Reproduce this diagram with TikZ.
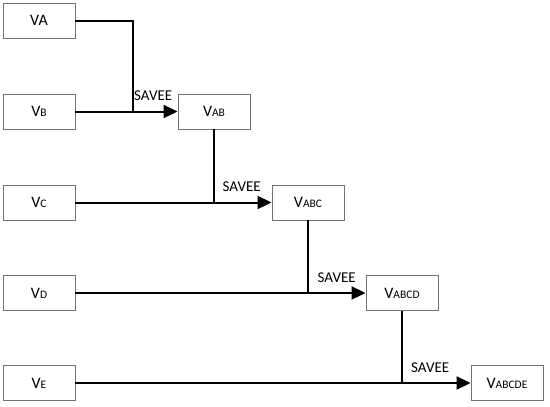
\documentclass[tikz,border=0pt]{standalone}
\usepackage{fontspec}
\setmainfont{Carlito}
\usetikzlibrary{arrows.meta}
\tikzset{
  vbox/.style={draw=black!55, line width=0.9pt, minimum width=72pt, minimum height=35pt, inner sep=0pt, font=\fontsize{16}{18}\selectfont},
  conn/.style={line width=2pt},
  arr/.style={conn, -{Triangle[length=14pt,width=13pt]}},
  lab/.style={font=\fontsize{15}{17}\selectfont, inner sep=0pt, anchor=south west}
}
\newcommand{\sub}[1]{{\fontsize{11.5}{13}\selectfont #1}}
\begin{document}
\begin{tikzpicture}[x=1pt,y=-1pt]
\useasboundingbox (0,0) rectangle (550,407);
\node[vbox] (va) at (39,20.5) {VA};
\node[vbox] (vb) at (39,111.5) {V\sub{B}};
\node[vbox] (vab) at (214,111.5) {V\sub{AB}};
\node[vbox] (vc) at (39,202.5) {V\sub{C}};
\node[vbox] (vabc) at (308,202.5) {V\sub{ABC}};
\node[vbox] (vd) at (39,293) {V\sub{D}};
\node[vbox] (vabcd) at (402,293) {V\sub{ABCD}};
\node[vbox] (ve) at (39,383) {V\sub{E}};
\node[vbox] (vabcde) at (507,383) {V\sub{ABCDE}};
\coordinate (j1) at (132.5,111.5);
\coordinate (j2) at (214,202.5);
\coordinate (j3) at (308,293);
\coordinate (j4) at (402,383);
\draw[conn] (va.east) -| (j1);
\draw[arr] (vb.east) -- (vab.west);
\draw[conn] (vab.south) -- (j2);
\draw[arr] (vc.east) -- (vabc.west);
\draw[conn] (vabc.south) -- (j3);
\draw[arr] (vd.east) -- (vabcd.west);
\draw[conn] (vabcd.south) -- (j4);
\draw[arr] (ve.east) -- (vabcde.west);
\node[lab] (l1) at (134,101) {SAVEE};
\node[lab] (l2) at (222.5,192) {SAVEE};
\node[lab] (l3) at (317.5,282.5) {SAVEE};
\node[lab] (l4) at (411,372.5) {SAVEE};
\end{tikzpicture}
\end{document}
